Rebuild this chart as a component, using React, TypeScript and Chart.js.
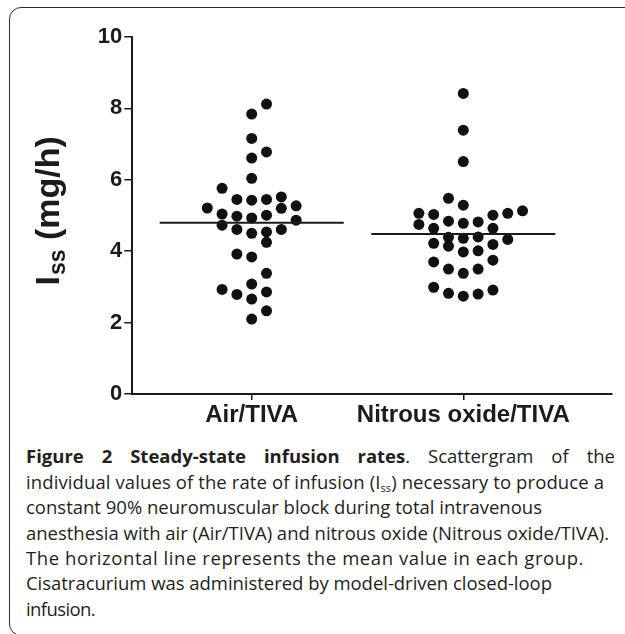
import React, { useEffect, useLayoutEffect, useRef } from "react";
import { Chart, registerables } from "chart.js";

Chart.register(...registerables);

// ---- data ----
const categories = ["Air/TIVA", "Nitrous oxide/TIVA"];
const yTickValues = [0, 2, 4, 6, 8, 10];

const airValues = [
  8.12, 7.84, 7.16, 6.78, 6.61, 6.04,
  5.76, 5.45, 5.43, 5.45, 5.52,
  5.21, 5.2, 5.27,
  5.04, 4.98, 4.93, 5.01, 4.87,
  4.73, 4.61, 4.5, 4.54, 4.61,
  4.25,
  3.92, 3.84,
  3.38, 3.08,
  2.93, 2.79, 2.86, 2.66,
  2.33, 2.1,
];
// beeswarm column of each dot (0 = centre of the group)
const airColumns = [
  1, 0, 0, 1, 0, 0,
  -2, -1, 0, 1, 2,
  -3, 2, 3,
  -2, -1, 0, 1, 3,
  -2, -1, 0, 1, 2,
  1,
  -1, 0,
  1, 0,
  -2, -1, 1, 0,
  1, 0,
];

const nitrousValues = [
  8.42, 7.39, 6.51,
  5.48, 5.29,
  5.06, 5.03, 5.01, 5.06, 5.13,
  4.75, 4.64, 4.84, 4.78, 4.82, 4.64,
  4.39, 4.36, 4.4, 4.33,
  4.22, 4.14, 4.19,
  3.98, 4.01,
  3.7, 3.75,
  3.5, 3.5, 3.38,
  2.99, 2.91, 2.82, 2.8, 2.74,
];
const nitrousColumns = [
  0, 0, 0,
  -1, 0,
  -3, -2, 2, 3, 4,
  -3, -2, -1, 0, 1, 2,
  -1, 0, 1, 3,
  -2, -1, 2,
  0, 1,
  -2, 2,
  -1, 1, 0,
  -2, 2, -1, 1, 0,
];

const groupMeans = [4.8, 4.48];

// ---- style constants ----
const INK = "#1c1a1b";
const COLUMN_STEP = 0.07;
const MEAN_HALF = 0.435;
const AXIS_FONT = '"Liberation Sans", Arial, Helvetica, sans-serif';
// widths (px) of the caption lines 2..7 in the figure
const CAPTION_LINE_WIDTHS = [578, 516, 583, 558, 526, 69];

const yTitlePlugin = {
  id: "yTitleSub",
  afterDraw(chart: any) {
    const ctx = chart.ctx as CanvasRenderingContext2D;
    ctx.save();
    ctx.fillStyle = INK;
    ctx.translate(59, 285.5);
    ctx.rotate(-Math.PI / 2);
    ctx.textAlign = "left";
    ctx.textBaseline = "alphabetic";
    const main = `bold 34px ${AXIS_FONT}`;
    const sub = `bold 23px ${AXIS_FONT}`;
    ctx.font = main;
    ctx.fillText("I", 0, 0);
    let x = ctx.measureText("I").width + 1;
    ctx.font = sub;
    ctx.fillText("ss", x, 6);
    x += ctx.measureText("ss").width;
    ctx.font = main;
    ctx.fillText(" (mg/h)", x, 0);
    ctx.restore();
  },
};

function ChartCanvas() {
  const ref = useRef<HTMLCanvasElement | null>(null);

  useEffect(() => {
    if (!ref.current) return;
    const groups = [
      { values: airValues, cols: airColumns },
      { values: nitrousValues, cols: nitrousColumns },
    ];
    const scatterSets = groups.map((g, gi) => ({
      type: "scatter" as const,
      label: categories[gi],
      data: g.values.map((v, i) => ({ x: gi + 1 + g.cols[i] * COLUMN_STEP, y: v })),
      pointRadius: 5.5,
      pointHoverRadius: 5.5,
      pointBackgroundColor: "#111",
      pointBorderWidth: 0,
      order: 2,
    }));
    const meanSets = groupMeans.map((m, gi) => ({
      type: "line" as const,
      label: categories[gi] + " mean",
      data: [
        { x: gi + 1 - MEAN_HALF, y: m },
        { x: gi + 1 + MEAN_HALF, y: m },
      ],
      borderColor: INK,
      borderWidth: 2,
      pointRadius: 0,
      fill: false,
      order: 1,
    }));

    const gridCommon = {
      display: true,
      drawOnChartArea: false,
      drawTicks: true,
      color: INK,
      lineWidth: 1.5,
    };

    const chart = new Chart(ref.current, {
      type: "scatter",
      data: { datasets: [...scatterSets, ...meanSets] as any },
      options: {
        animation: false,
        responsive: false,
        maintainAspectRatio: false,
        layout: { padding: { top: 37, right: 13.3, left: 0, bottom: 0 } },
        plugins: { legend: { display: false }, tooltip: { enabled: false } },
        scales: {
          x: {
            type: "linear",
            min: 0.4357,
            max: 2.7013,
            afterBuildTicks: (s: any) => {
              s.ticks = categories.map((_, i) => ({ value: i + 1 }));
            },
            afterFit: (s: any) => {
              s.height = 46;
            },
            ticks: {
              autoSkip: false,
              maxRotation: 0,
              padding: 1,
              color: INK,
              font: { family: AXIS_FONT, size: 24, weight: "bold" },
              callback: (v: any) => categories[Math.round(Number(v)) - 1] ?? "",
            },
            grid: { ...gridCommon, tickLength: 6 },
            border: { display: true, width: 2, color: INK },
          },
          y: {
            type: "linear",
            min: 0,
            max: 10,
            afterBuildTicks: (s: any) => {
              s.ticks = yTickValues.map((v) => ({ value: v }));
            },
            afterFit: (s: any) => {
              s.width = 132.3;
            },
            ticks: {
              padding: 2,
              color: INK,
              font: { family: AXIS_FONT, size: 22, weight: "bold" },
              callback: (v: any) => String(v),
            },
            grid: { ...gridCommon, tickLength: 8 },
            border: { display: true, width: 2, color: INK },
          },
        },
      } as any,
      plugins: [yTitlePlugin],
    });
    return () => chart.destroy();
  }, []);

  return (
    <canvas
      ref={ref}
      width={625}
      height={440}
      style={{ position: "absolute", left: 0, top: 0, width: 625, height: 440 }}
    />
  );
}

function Caption() {
  const lineRefs = useRef<(HTMLSpanElement | null)[]>([]);

  useLayoutEffect(() => {
    lineRefs.current.forEach((el, i) => {
      if (!el) return;
      el.style.letterSpacing = "0px";
      const w = el.getBoundingClientRect().width;
      const n = (el.textContent || "").length;
      const target = CAPTION_LINE_WIDTHS[i];
      if (n > 1 && target) {
        el.style.letterSpacing = `${(target - w) / n}px`;
      }
    });
  }, []);

  const setRef = (i: number) => (el: HTMLSpanElement | null) => {
    lineRefs.current[i] = el;
  };
  const lineStyle: React.CSSProperties = { whiteSpace: "nowrap", display: "inline-block" };
  const subStyle: React.CSSProperties = { fontSize: 11, lineHeight: 0, verticalAlign: "-3px" };

  return (
    <div
      style={{
        position: "absolute",
        left: 26,
        top: 443.4,
        width: 589,
        fontFamily: '"Open Sans", "Noto Sans", sans-serif',
        fontSize: 18.5,
        lineHeight: "25.4px",
        color: "#231f20",
      }}
    >
      <div style={{ textAlign: "justify", textAlignLast: "justify" as any }}>
        <b>Figure 2 Steady-state infusion rates</b>. Scattergram of the
      </div>
      <div>
        <span ref={setRef(0)} style={lineStyle}>
          individual values of the rate of infusion (I<sub style={subStyle}>ss</sub>) necessary to produce a
        </span>
      </div>
      <div>
        <span ref={setRef(1)} style={lineStyle}>
          constant 90% neuromuscular block during total intravenous
        </span>
      </div>
      <div>
        <span ref={setRef(2)} style={lineStyle}>
          anesthesia with air (Air/TIVA) and nitrous oxide (Nitrous oxide/TIVA).
        </span>
      </div>
      <div>
        <span ref={setRef(3)} style={lineStyle}>
          The horizontal line represents the mean value in each group.
        </span>
      </div>
      <div>
        <span ref={setRef(4)} style={lineStyle}>
          Cisatracurium was administered by model-driven closed-loop
        </span>
      </div>
      <div>
        <span ref={setRef(5)} style={lineStyle}>
          infusion.
        </span>
      </div>
    </div>
  );
}

export default function App() {
  return (
    <div
      style={{
        position: "fixed",
        left: 0,
        top: 0,
        width: 625,
        height: 634,
        overflow: "hidden",
        background: "#fff",
      }}
    >
      <div
        style={{
          position: "absolute",
          left: 9,
          top: 7,
          width: 660,
          height: 629,
          border: "1.5px solid #2a2a2a",
          borderRadius: 12,
          boxSizing: "border-box",
        }}
      />
      <ChartCanvas />
      <Caption />
    </div>
  );
}
